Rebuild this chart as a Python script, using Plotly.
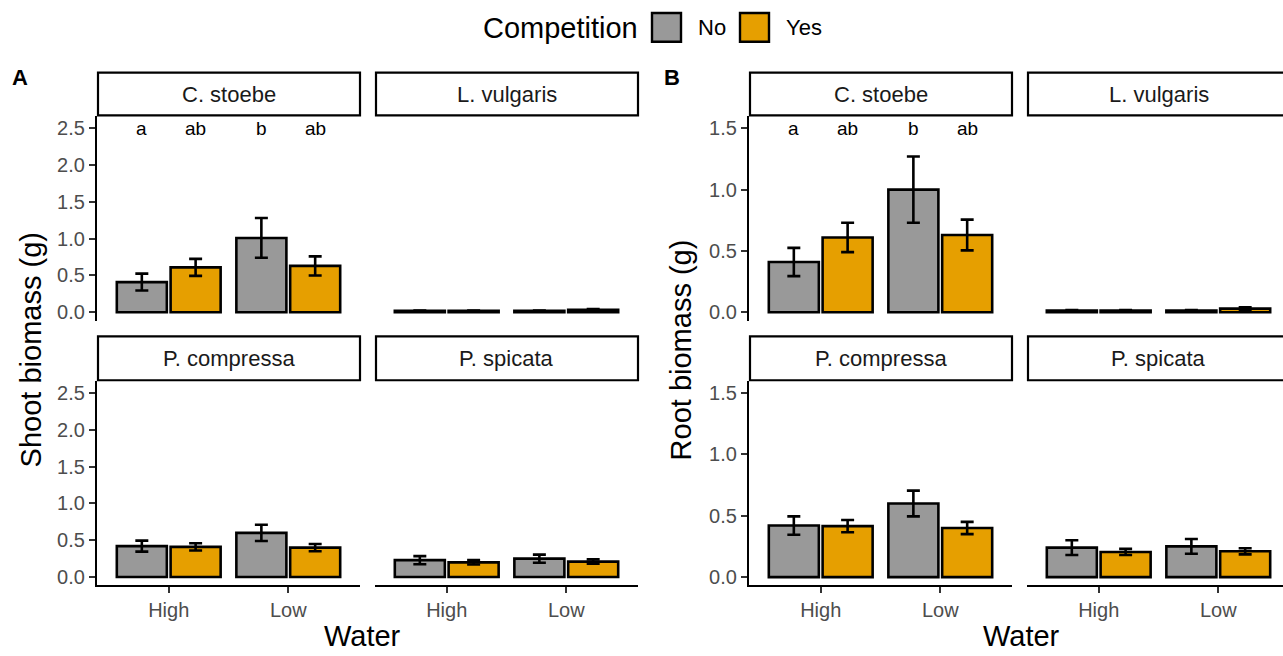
import plotly.graph_objects as go

W, H = 1283, 656

water = ["High", "Low"]
species = ["C. stoebe", "L. vulgaris", "P. compressa", "P. spicata"]
competition = ["No", "Yes"]
colors = ["#999999", "#E69F00"]

# Panel A: shoot biomass (g), per species [High, Low]
shoot_no_mean = [[0.41, 1.01], [0.02, 0.02], [0.42, 0.60], [0.23, 0.25]]
shoot_no_se = [[0.115, 0.27], [0.005, 0.005], [0.075, 0.11], [0.055, 0.055]]
shoot_yes_mean = [[0.61, 0.63], [0.02, 0.035], [0.41, 0.40], [0.20, 0.21]]
shoot_yes_se = [[0.115, 0.13], [0.005, 0.01], [0.05, 0.05], [0.03, 0.03]]

# Panel B: root biomass (g), per species [High, Low]
root_no_mean = [[0.41, 1.00], [0.015, 0.015], [0.42, 0.60], [0.24, 0.25]]
root_no_se = [[0.115, 0.27], [0.003, 0.003], [0.075, 0.105], [0.06, 0.06]]
root_yes_mean = [[0.61, 0.63], [0.015, 0.03], [0.415, 0.40], [0.205, 0.21]]
root_yes_se = [[0.12, 0.125], [0.003, 0.01], [0.05, 0.05], [0.025, 0.025]]

# significance letters for C. stoebe: High-No, High-Yes, Low-No, Low-Yes
letters = ["a", "ab", "b", "ab"]

shoot_ticks = [0.0, 0.5, 1.0, 1.5, 2.0, 2.5]
root_ticks = [0.0, 0.5, 1.0, 1.5]

FONT = "Liberation Sans, Arial, sans-serif"
TICKC = "#4D4D4D"
TICK_SIZE = 20
STRIP_SIZE = 22
TITLE_SIZE = 29

fig = go.Figure()

# facet geometry (pixels)
col_x = [[97, 360], [375, 638], [749, 1012], [1027, 1290]]
row_y = [[117, 322], [383, 588]]
strip_y = [[73, 116], [338, 382]]

panels = [
    dict(no_m=shoot_no_mean, no_s=shoot_no_se, yes_m=shoot_yes_mean, yes_s=shoot_yes_se,
         yr=[-0.112, 2.66], ticks=shoot_ticks, cols=[0, 1], letter_y=2.5),
    dict(no_m=root_no_mean, no_s=root_no_se, yes_m=root_yes_mean, yes_s=root_yes_se,
         yr=[-0.067, 1.596], ticks=root_ticks, cols=[2, 3], letter_y=1.5),
]

shapes = []
annotations = []
ax = 0
px_per_unit = (col_x[0][1] - col_x[0][0]) / 2.2
for p in panels:
    for si, sp in enumerate(species):
        r = si // 2
        c = p["cols"][si % 2]
        ax += 1
        xa = "x" if ax == 1 else f"x{ax}"
        ya = "y" if ax == 1 else f"y{ax}"
        x0, x1 = col_x[c]
        x1c = min(x1, W)
        xr = [-0.6, -0.6 + (x1c - x0) / px_per_unit]
        y0, y1 = row_y[r]
        for ci, comp in enumerate(competition):
            m = p["no_m"][si] if ci == 0 else p["yes_m"][si]
            s = p["no_s"][si] if ci == 0 else p["yes_s"][si]
            fig.add_trace(go.Bar(
                x=water, y=m, name=comp, showlegend=False,
                xaxis=xa, yaxis=ya, offsetgroup=comp,
                marker=dict(color=colors[ci], line=dict(color="black", width=2.6)),
                error_y=dict(type="data", array=s, visible=True, color="black",
                             thickness=2.6, width=6.5),
                hoverinfo="skip",
            ))
        left = (c % 2 == 0)
        bottom = (r == 1)
        xkey = "xaxis" if ax == 1 else f"xaxis{ax}"
        ykey = "yaxis" if ax == 1 else f"yaxis{ax}"
        fig.layout[xkey] = dict(
            domain=[x0 / W, x1c / W], anchor=ya, type="category",
            categoryorder="array", categoryarray=water, range=xr,
            showline=bottom, linecolor="black", linewidth=2.2,
            ticks="outside" if bottom else "", ticklen=6, tickwidth=1.8, tickcolor="#333333",
            showticklabels=bottom, tickfont=dict(family=FONT, size=TICK_SIZE, color=TICKC),
            showgrid=False, zeroline=False, fixedrange=True,
        )
        fig.layout[ykey] = dict(
            domain=[1 - y1 / H, 1 - y0 / H], anchor=xa, range=p["yr"],
            tickvals=p["ticks"], ticktext=[f"{t:.1f}" for t in p["ticks"]],
            showline=left, linecolor="black", linewidth=2.2,
            ticks="outside" if left else "", ticklen=6, tickwidth=1.8, tickcolor="#333333",
            showticklabels=left, tickfont=dict(family=FONT, size=TICK_SIZE, color=TICKC),
            showgrid=False, zeroline=False, fixedrange=True,
        )
        # strip
        sy0, sy1 = strip_y[r]
        shapes.append(dict(type="rect", xref="paper", yref="paper",
                           x0=(x0 + 1) / W, x1=x1 / W, y0=1 - sy1 / H, y1=1 - sy0 / H,
                           line=dict(color="black", width=2.2), fillcolor="white", layer="above"))
        annotations.append(dict(text=sp, xref="paper", yref="paper",
                                x=((x0 + x1) / 2) / W, y=1 - ((sy0 + sy1) / 2) / H,
                                showarrow=False, xanchor="center", yanchor="middle",
                                font=dict(family=FONT, size=STRIP_SIZE, color="#1A1A1A")))
        if si == 0:
            k = 0
            for wi in range(len(water)):
                for ci in range(len(competition)):
                    annotations.append(dict(text=letters[k], xref=xa, yref=ya,
                                            x=wi + (-0.225 if ci == 0 else 0.225), y=p["letter_y"],
                                            showarrow=False, xanchor="center", yanchor="middle",
                                            font=dict(family=FONT, size=19, color="black")))
                    k += 1

# axis titles and panel labels
for txt, x in [("Shoot biomass (g)", 31), ("Root biomass (g)", 681)]:
    annotations.append(dict(text=txt, xref="paper", yref="paper", x=x / W, y=1 - 352 / H,
                            textangle=-90, showarrow=False, xanchor="center", yanchor="middle",
                            font=dict(family=FONT, size=TITLE_SIZE, color="black")))
for x in [362, 1021]:
    annotations.append(dict(text="Water", xref="paper", yref="paper", x=x / W, y=1 - 639 / H,
                            showarrow=False, xanchor="center", yanchor="middle",
                            font=dict(family=FONT, size=TITLE_SIZE, color="black")))
for txt, x in [("A", 20), ("B", 672)]:
    annotations.append(dict(text=f"<b>{txt}</b>", xref="paper", yref="paper", x=x / W, y=1 - 78 / H,
                            showarrow=False, xanchor="center", yanchor="middle",
                            font=dict(family=FONT, size=22, color="black")))

# legend
annotations.append(dict(text="Competition", xref="paper", yref="paper", x=640 / W, y=1 - 28 / H,
                        showarrow=False, xanchor="right", yanchor="middle",
                        font=dict(family=FONT, size=TITLE_SIZE, color="black")))
for ci, (comp, bx, tx) in enumerate([("No", 652, 696), ("Yes", 740, 784)]):
    shapes.append(dict(type="rect", xref="paper", yref="paper",
                       x0=bx / W, x1=(bx + 29) / W, y0=1 - 42 / H, y1=1 - 13 / H,
                       line=dict(color="black", width=2.4), fillcolor=colors[ci]))
    annotations.append(dict(text=comp, xref="paper", yref="paper", x=tx / W, y=1 - 28 / H,
                            showarrow=False, xanchor="left", yanchor="middle",
                            font=dict(family=FONT, size=22, color="black")))

fig.update_layout(
    width=W, height=H, margin=dict(l=0, r=0, t=0, b=0),
    paper_bgcolor="white", plot_bgcolor="white",
    barmode="group", bargap=0.1, bargroupgap=0.07,
    showlegend=False, shapes=shapes, annotations=annotations,
    font=dict(family=FONT),
)

fig.write_html("out.html")
